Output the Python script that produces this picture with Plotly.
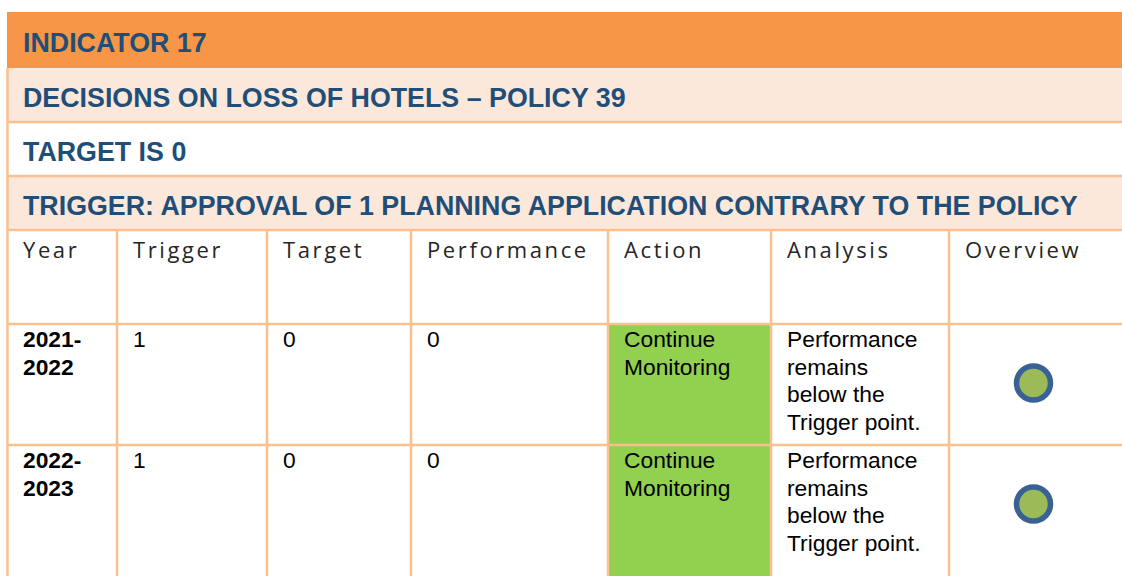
import plotly.graph_objects as go

# ---------------- data ----------------
title_rows = [
    "INDICATOR 17",
    "DECISIONS ON LOSS OF HOTELS – POLICY 39",
    "TARGET IS 0",
    "TRIGGER: APPROVAL OF 1 PLANNING APPLICATION CONTRARY TO THE POLICY",
]
headers = ["Year", "Trigger", "Target", "Performance", "Action", "Analysis", "Overview"]
years = ["2021-\n2022", "2022-\n2023"]
trigger = [1, 1]
target = [0, 0]
performance = [0, 0]
action = ["Continue\nMonitoring", "Continue\nMonitoring"]
analysis = ["Performance\nremains\nbelow the\nTrigger point.",
            "Performance\nremains\nbelow the\nTrigger point."]
overview = ["green", "green"]

# ---------------- layout constants ----------------
W, H = 1122, 576
LEFT, RIGHT = 7, 1122
col_edges = [7, 117, 267, 411, 608, 771, 949, 1122]
title_bands = [(12, 68), (68, 122), (122, 176), (176, 230)]
title_fills = ["#F79646", "#FCE8DA", "#FFFFFF", "#FCE8DA"]
header_band = (230, 324)
data_bands = [(324, 445), (445, 576)]
BORDER = "#FAC090"
TITLE_COLOR = "#1F4E79"
ACTION_FILL = {"Continue\nMonitoring": "#92D050"}
STATUS_FILL = {"green": "#9BBB59"}
PAD = 16
LINE_H = 27.6

fig = go.Figure()
shapes = []
annotations = []

# title bands
for (y0, y1), fill, txt in zip(title_bands, title_fills, title_rows):
    shapes.append(dict(type="rect", x0=LEFT, x1=RIGHT, y0=y0, y1=y1,
                       fillcolor=fill, line=dict(width=0), layer="below"))
    annotations.append(dict(x=LEFT + PAD - 2, y=(y0 + y1) / 2 + 3, text=f"<b>{txt}</b>",
                            xanchor="left", yanchor="middle", showarrow=False,
                            font=dict(family="Liberation Sans, Arial", size=26.8, color=TITLE_COLOR)))

# green action cells
for (y0, y1), a in zip(data_bands, action):
    if a in ACTION_FILL:
        shapes.append(dict(type="rect", x0=col_edges[4], x1=col_edges[5], y0=y0, y1=y1,
                           fillcolor=ACTION_FILL[a], line=dict(width=0), layer="below"))

# horizontal borders
for yy in [122, 176, 230, 324, 445]:
    shapes.append(dict(type="line", x0=LEFT, x1=RIGHT, y0=yy, y1=yy,
                       line=dict(color=BORDER, width=2.5)))
# vertical borders
shapes.append(dict(type="line", x0=LEFT + 0.5, x1=LEFT + 0.5, y0=68, y1=H,
                   line=dict(color=BORDER, width=2.5)))
for xx in col_edges[1:-1]:
    shapes.append(dict(type="line", x0=xx, x1=xx, y0=230, y1=H,
                       line=dict(color=BORDER, width=2.5)))

# headers
for i, h in enumerate(headers):
    annotations.append(dict(x=col_edges[i] + PAD - 2, y=249,
                            text=f'<span style="letter-spacing:2.6px">{h}</span>',
                            xanchor="left", yanchor="middle", showarrow=False,
                            font=dict(family="Open Sans, Lato", size=22, color="#262626",
                                      weight=400)))

# data cells (one annotation per text line to keep the line pitch)
def cell(x, y, txt, bold=False):
    for k, line in enumerate(str(txt).split("\n")):
        t = f"<b>{line}</b>" if bold else line
        annotations.append(dict(x=x, y=y + k * LINE_H, text=t, xanchor="left", yanchor="middle",
                                align="left", showarrow=False,
                                font=dict(family="Liberation Sans, Arial", size=22.8,
                                          color="#000000")))

for r, (y0, y1) in enumerate(data_bands):
    ty = y0 + 15
    cell(col_edges[0] + PAD - 2, ty, years[r], bold=True)
    cell(col_edges[1] + PAD - 2, ty, trigger[r])
    cell(col_edges[2] + PAD - 2, ty, target[r])
    cell(col_edges[3] + PAD - 2, ty, performance[r])
    cell(col_edges[4] + PAD - 2, ty, action[r])
    cell(col_edges[5] + PAD - 2, ty, analysis[r])

# overview status circles
cx = [(col_edges[6] + col_edges[7]) / 2 - 2 for _ in overview]
cy = [y0 + 59 for (y0, y1) in data_bands]
fig.add_trace(go.Scatter(
    x=cx, y=cy, mode="markers", hoverinfo="skip",
    marker=dict(size=34, color=[STATUS_FILL[s] for s in overview],
                line=dict(color="#3A6194", width=5.5)),
))

fig.update_layout(
    width=W, height=H, margin=dict(l=0, r=0, t=0, b=0),
    paper_bgcolor="white", plot_bgcolor="white",
    showlegend=False, shapes=shapes, annotations=annotations,
    xaxis=dict(range=[0, W], visible=False, fixedrange=True),
    yaxis=dict(range=[H, 0], visible=False, fixedrange=True),
)
fig.write_html("out.html", config={"displayModeBar": False},
               post_script="document.body.style.margin='0';document.body.style.padding='0';")
